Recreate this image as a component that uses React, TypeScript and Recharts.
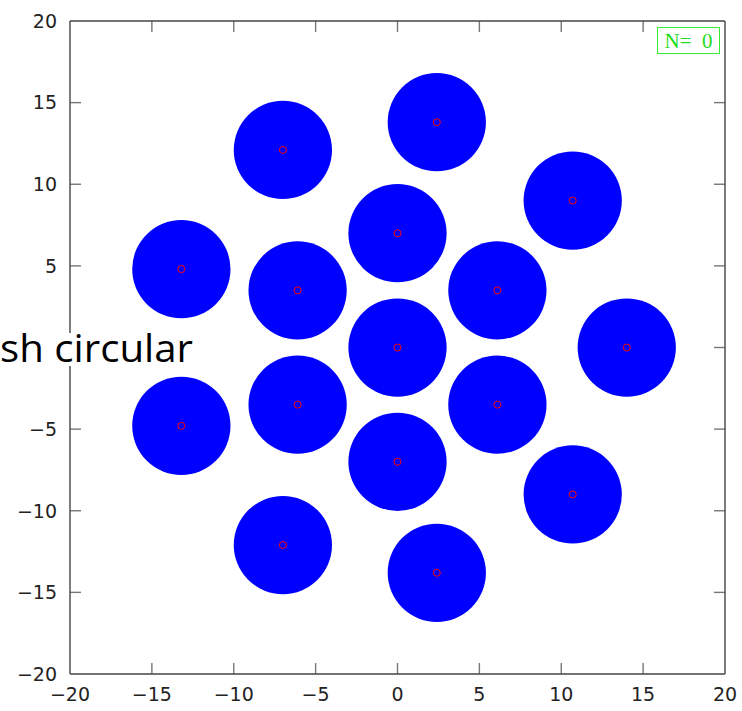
import React from 'react';
import { ScatterChart, Scatter, XAxis, YAxis, ReferenceLine } from 'recharts';

// disc centres (x, y)
const xs = [0, 0, 0, 6.1, 6.1, -6.1, -6.1, 2.4, 2.4, -7, -7, 10.7, 10.7, -13.2, -13.2, 14];
const ys = [0, 7, -7, 3.5, -3.5, 3.5, -3.5, 13.8, -13.8, 12.1, -12.1, 9, -9, 4.8, -4.8, 0];
const ticks = [-20, -15, -10, -5, 0, 5, 10, 15, 20];
const discRadius = 3; // data units
const counterText = 'N=  0';
const overlayText = 'sh circular';

const points = xs.map((x, i) => ({ x, y: ys[i] }));

const W = 742;
const H = 711;
const margin = { top: 20, right: 16, left: 0, bottom: 0 };
const yAxisWidth = 70;
const xAxisHeight = 37;
const plotLeft = margin.left + yAxisWidth;
const plotRight = W - margin.right - 1;
const plotTop = margin.top + 1;
const plotBottom = H - margin.bottom - xAxisHeight;
const pxPerUnit = (plotRight - plotLeft) / 40;
const tickLen = 11 / pxPerUnit; // inward tick length in data units

const fmt = (v: number) => String(v).replace('-', '\u2212');
const font = 'DejaVu Sans, sans-serif';
const lineStyle = { stroke: '#444', strokeWidth: 1.4 };
const tickColor = '#777';

const BottomLabel = (p: any) => (
  <text x={p.payload.coordinate} y={plotBottom + 14} dy="0.71em" textAnchor="middle" fontFamily={font} fontSize={19} fill="#222">
    {fmt(p.payload.value)}
  </text>
);
const LeftLabel = (p: any) => (
  <text x={plotLeft - 13} y={p.payload.coordinate} dy="0.36em" textAnchor="end" fontFamily={font} fontSize={19} fill="#222">
    {fmt(p.payload.value)}
  </text>
);

const Disc = (props: any) => {
  const { cx, cy } = props;
  if (cx == null || cy == null) return <g />;
  return (
    <g>
      <circle cx={cx} cy={cy} r={discRadius * pxPerUnit} fill="#0000ff" />
      <circle cx={cx} cy={cy} r={3.5} fill="none" stroke="#ff0000" strokeWidth={1} />
    </g>
  );
};

// inward tick marks on all four sides of the frame
const inner = ticks.slice(1, -1);
const tickSegments = [
  ...inner.map((t) => [{ x: t, y: -20 }, { x: t, y: -20 + tickLen }]),
  ...inner.map((t) => [{ x: t, y: 20 }, { x: t, y: 20 - tickLen }]),
  ...inner.map((t) => [{ x: -20, y: t }, { x: -20 + tickLen, y: t }]),
  ...inner.map((t) => [{ x: 20, y: t }, { x: 20 - tickLen, y: t }]),
];

export default function App() {
  return (
    <div style={{ position: 'absolute', left: 0, top: 0, width: W, height: H, background: '#fff' }}>
      <ScatterChart width={W} height={H} margin={margin}>
        <XAxis
          dataKey="x"
          type="number"
          domain={[-20, 20]}
          ticks={ticks}
          height={xAxisHeight}
          tickLine={false}
          tick={BottomLabel}
          axisLine={lineStyle}
          interval={0}
        />
        <XAxis
          xAxisId="top"
          orientation="top"
          type="number"
          domain={[-20, 20]}
          ticks={ticks}
          height={1}
          tickLine={false}
          tick={false}
          axisLine={lineStyle}
        />
        <YAxis
          dataKey="y"
          type="number"
          domain={[-20, 20]}
          ticks={ticks}
          width={yAxisWidth}
          tickLine={false}
          tick={LeftLabel}
          axisLine={lineStyle}
          interval={0}
        />
        <YAxis
          yAxisId="right"
          orientation="right"
          type="number"
          domain={[-20, 20]}
          ticks={ticks}
          width={1}
          tickLine={false}
          tick={false}
          axisLine={lineStyle}
        />
        {tickSegments.map((seg, i) => (
          <ReferenceLine key={i} segment={seg} stroke={tickColor} strokeWidth={1.4} ifOverflow="visible" />
        ))}
        <Scatter data={points} shape={Disc} isAnimationActive={false} />
      </ScatterChart>

      {/* step counter box */}
      <div
        style={{
          position: 'absolute',
          left: 657,
          top: 27,
          width: 61,
          height: 25,
          border: '1px solid #33ee33',
          color: '#22dd22',
          fontFamily: 'Liberation Serif, serif',
          fontSize: 21,
          lineHeight: '27px',
          whiteSpace: 'pre',
          textAlign: 'center',
        }}
      >
        {counterText}
      </div>

      {/* caption fragment over the left edge */}
      <svg style={{ position: 'absolute', left: 0, top: 0 }} width={W} height={H} pointerEvents="none">
        <rect x={0} y={333} width={196} height={33} fill="#fff" />
        <text
          x={0}
          y={362}
          fontFamily="Open Sans, sans-serif"
          fontSize={38}
          fill="#000"
          textLength={193}
          lengthAdjust="spacingAndGlyphs"
        >
          {overlayText}
        </text>
      </svg>
    </div>
  );
}
